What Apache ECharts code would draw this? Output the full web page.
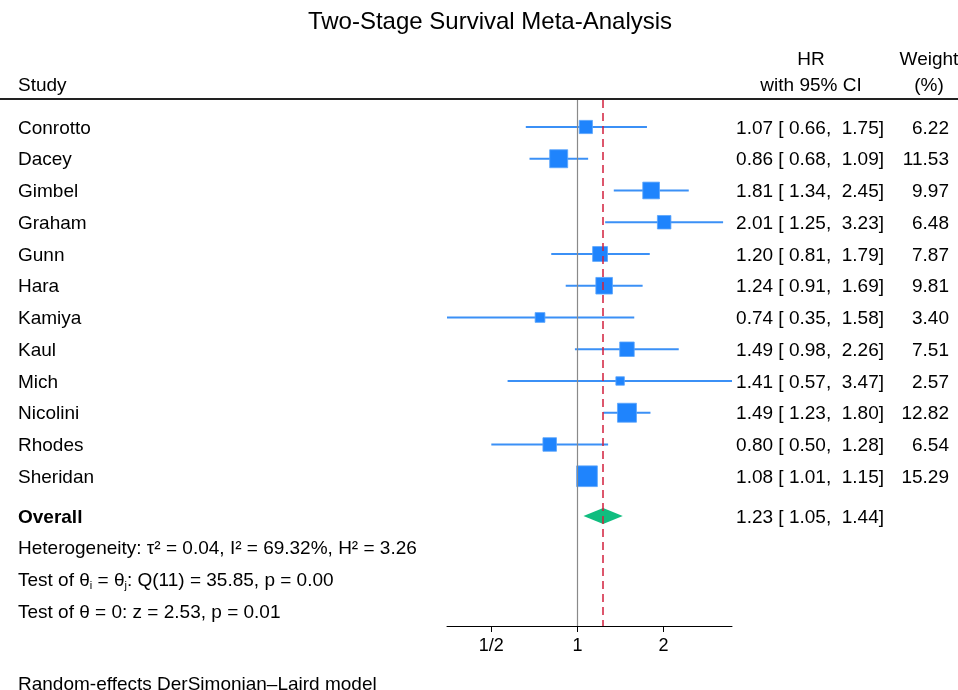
<!DOCTYPE html>
<html>
<head>
<meta charset="utf-8">
<script src="https://cdn.jsdelivr.net/npm/echarts@6/dist/echarts.min.js"></script>
<style>
html,body{margin:0;padding:0;background:#fff;}
#chart{width:958px;height:690px;}
</style>
</head>
<body>
<div id="chart"></div>
<script>
const studies = ['Conrotto','Dacey','Gimbel','Graham','Gunn','Hara','Kamiya','Kaul','Mich','Nicolini','Rhodes','Sheridan'];
const hr      = [1.07, 0.86, 1.81, 2.01, 1.20, 1.24, 0.74, 1.49, 1.41, 1.49, 0.80, 1.08];
const ciLow   = [0.66, 0.68, 1.34, 1.25, 0.81, 0.91, 0.35, 0.98, 0.57, 1.23, 0.50, 1.01];
const ciHigh  = [1.75, 1.09, 2.45, 3.23, 1.79, 1.69, 1.58, 2.26, 3.47, 1.80, 1.28, 1.15];
const weights = [6.22, 11.53, 9.97, 6.48, 7.87, 9.81, 3.40, 7.51, 2.57, 12.82, 6.54, 15.29];
const overallHR = 1.23, overallLow = 1.05, overallHigh = 1.44;
const tickValues = [0.5, 1, 2];
const tickLabels = ['1/2', '1', '2'];
const statLines = [
  'Heterogeneity: τ² = 0.04, I² = 69.32%, H² = 3.26',
  '{n|Test of θ}{s|i}{n| = θ}{s|j}{n|: Q(11) = 35.85, p = 0.00}',
  'Test of θ = 0: z = 2.53, p = 0.01'
];

const FONT = '"Liberation Sans", Arial, Helvetica, sans-serif';
const FS = 19;
const DY = 1.5;
const fmt = v => v.toFixed(2);
const pad = v => (v < 10 ? ' ' : '') + fmt(v);
const hrText = i => fmt(hr[i]) + ' [ ' + fmt(ciLow[i]) + ', ' + pad(ciHigh[i]) + ']';
const overallText = fmt(overallHR) + ' [ ' + fmt(overallLow) + ', ' + pad(overallHigh) + ']';

const OVERALL_ROW = 12.25;
const statRows = [13.25, 14.25, 15.25];

const chart = echarts.init(document.getElementById('chart'), null, {renderer: 'canvas'});

const textRows = [];
studies.forEach((s, i) => textRows.push({row: i, name: s, hrT: hrText(i), wT: fmt(weights[i]), bold: false}));
textRows.push({row: OVERALL_ROW, name: 'Overall', hrT: overallText, wT: '', bold: true});
statLines.forEach((t, k) => textRows.push({row: statRows[k], name: t, hrT: '', wT: '', bold: false}));

const txt = (x, y, text, align, size) => ({type: 'text', x: x, y: y + DY,
  style: {text: text, fontFamily: FONT, fontSize: size || FS, fill: '#000', verticalAlign: 'middle', align: align}});

const option = {
  animation: false,
  backgroundColor: '#ffffff',
  grid: {left: 447, right: 226, top: 100, bottom: 64, containLabel: false},
  xAxis: {
    type: 'log', logBase: 2, min: 0.35, max: 3.47, position: 'bottom',
    axisLine: {show: true, onZero: false, lineStyle: {color: '#000', width: 1}},
    axisTick: {show: true, inside: false, length: 6, lineStyle: {color: '#000'}, customValues: tickValues},
    axisLabel: {
      fontFamily: FONT, fontSize: 18, color: '#000', margin: 11,
      customValues: tickValues,
      formatter: v => { const k = tickValues.findIndex(t => Math.abs(t - v) < 1e-6); return k >= 0 ? tickLabels[k] : ''; }
    },
    splitLine: {show: false}
  },
  yAxis: {type: 'value', inverse: true, min: -0.85, max: 15.717, show: false},
  series: [
    {
      type: 'custom', name: 'ci', clip: false,
      data: studies.map((s, i) => [ciLow[i], ciHigh[i], i]),
      renderItem: (params, api) => {
        const a = api.coord([api.value(0), api.value(2)]);
        const b = api.coord([api.value(1), api.value(2)]);
        return {type: 'line', shape: {x1: a[0], y1: a[1], x2: b[0], y2: b[1]},
          style: {stroke: '#3b90f6', lineWidth: 1.8}};
      },
      markLine: {
        silent: true, symbol: 'none', label: {show: false},
        data: [
          {xAxis: 1, lineStyle: {color: '#8a8a8a', type: 'solid', width: 1.2}},
          {xAxis: overallHR, lineStyle: {color: '#d21f3c', type: [8, 5], width: 1.5}}
        ]
      },
      z: 2
    },
    {
      type: 'scatter', name: 'studies',
      data: studies.map((s, i) => [hr[i], i, weights[i]]),
      symbol: 'rect',
      symbolSize: d => 5.3 * Math.sqrt(d[2]),
      itemStyle: {color: '#1f84fd', borderColor: '#5aa5fb', borderWidth: 0.8, opacity: 1},
      z: 3
    },
    {
      type: 'custom', name: 'overall', clip: false,
      data: [[overallLow, overallHR, overallHigh, OVERALL_ROW]],
      renderItem: (params, api) => {
        const y = api.value(3);
        const l = api.coord([api.value(0), y]);
        const m = api.coord([api.value(1), y]);
        const r = api.coord([api.value(2), y]);
        return {type: 'polygon', shape: {points: [[l[0], l[1]], [m[0], m[1] - 8], [r[0], r[1]], [m[0], m[1] + 8]]},
          style: {fill: '#10bd7f'}};
      },
      z: 3
    },
    {
      type: 'custom', name: 'texts', clip: false, silent: true,
      data: textRows.map(r => [1, r.row]),
      renderItem: (params, api) => {
        const r = textRows[params.dataIndex];
        const y = api.coord([1, api.value(1)])[1];
        const children = [{
          type: 'text', x: 18, y: y + DY,
          style: {
            text: r.name, fontFamily: FONT, fontSize: FS, fill: '#000',
            fontWeight: r.bold ? 'bold' : 'normal',
            verticalAlign: 'middle', align: 'left',
            rich: {
              n: {fontFamily: FONT, fontSize: FS, fill: '#000', lineHeight: 22, verticalAlign: 'middle'},
              s: {fontFamily: FONT, fontSize: 11, fill: '#000', lineHeight: 11, padding: [12, 0, 0, 0], verticalAlign: 'bottom'}
            }
          }
        }];
        if (r.hrT) children.push(txt(884, y, r.hrT, 'right'));
        if (r.wT) children.push(txt(949, y, r.wT, 'right'));
        return {type: 'group', children: children};
      },
      z: 5
    }
  ],
  graphic: [
    txt(490, 21, 'Two-Stage Survival Meta-Analysis', 'center', 24),
    {type: 'line', shape: {x1: 0, y1: 99, x2: 958, y2: 99}, style: {stroke: '#222', lineWidth: 2}},
    txt(18, 84, 'Study', 'left'),
    txt(811, 58, 'HR', 'center'),
    txt(811, 84, 'with 95% CI', 'center'),
    txt(929, 58, 'Weight', 'center'),
    txt(929, 84, '(%)', 'center'),
    txt(18, 683, 'Random-effects DerSimonian–Laird model', 'left')
  ]
};
chart.setOption(option);
</script>
</body>
</html>
